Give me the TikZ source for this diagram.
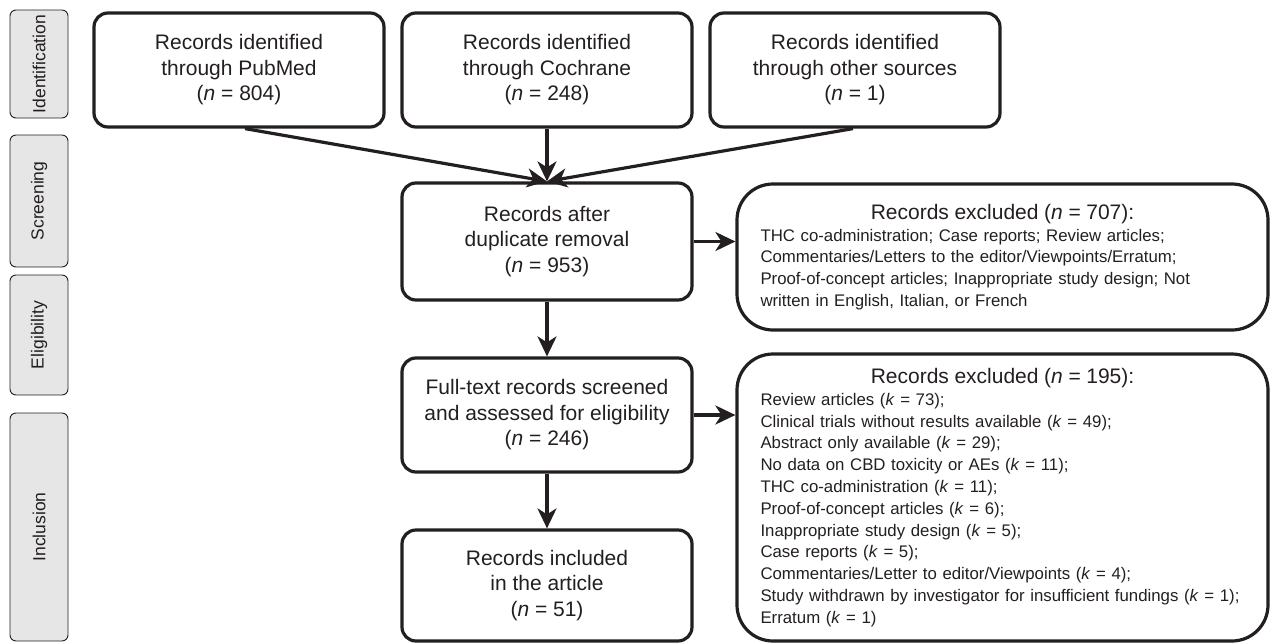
\documentclass[tikz,border=0pt]{standalone}
\usepackage{fontspec}
\setmainfont{Liberation Sans}
\usetikzlibrary{arrows.meta}
\definecolor{ink}{HTML}{231F20}
\definecolor{labfill}{HTML}{E6E6E6}
\begin{document}
\begin{tikzpicture}[x=1pt,y=-1pt,
  mainbox/.style={draw=ink, line width=3.2pt, rounded corners=14pt,
    minimum width=290pt, align=center, text=ink, inner sep=0pt,
    font=\fontsize{21}{25.5}\selectfont},
  exbox/.style={draw=ink, line width=3.2pt, rounded corners=36pt,
    text width=484pt, inner xsep=23.5pt, inner ysep=0pt, align=left, text=ink,
    font=\fontsize{16.8}{21.8}\selectfont},
  stagebox/.style={draw=ink, line width=0.9pt, fill=labfill, rounded corners=6pt,
    rotate=90, minimum height=58pt, inner sep=0pt, text=ink,
    font=\fontsize{17.5}{21}\selectfont},
  arr/.style={draw=ink, line width=3.2pt, -{Stealth[length=20pt,width=19pt,inset=6pt]}}
]
\useasboundingbox (0,0) rectangle (1272,643);

% stage labels
\node[stagebox, minimum width=108pt] (lid) at (39,64) {Identification};
\node[stagebox, minimum width=132pt] (lscr) at (39,201) {Screening};
\node[stagebox, minimum width=120pt] (lel) at (39,335) {Eligibility};
\node[stagebox, minimum width=228pt] (lin) at (39,527) {Inclusion};

% main boxes
\node[mainbox, minimum height=114pt] (pub) at (239,70) {Records identified\\through PubMed\\(\textit{n} = 804)};
\node[mainbox, minimum height=114pt] (coch) at (547,70) {Records identified\\through Cochrane\\(\textit{n} = 248)};
\node[mainbox, minimum height=114pt] (oth) at (855,70) {Records identified\\through other sources\\(\textit{n} = 1)};
\node[mainbox, minimum height=117pt] (scr) at (547,241.5) {Records after\\duplicate removal\\(\textit{n} = 953)};
\node[mainbox, minimum height=114pt] (elig) at (547,415) {Full-text records screened\\and assessed for eligibility\\(\textit{n} = 246)};
\node[mainbox, minimum height=111pt] (incl) at (547,585.5) {Records included\\in the article\\(\textit{n} = 51)};

% exclusion boxes
\node[exbox, minimum height=146pt] (ex1) at (1002.5,257) {{\centering\fontsize{21}{24}\selectfont Records excluded (\textit{n} = 707):\par}
THC co-administration; Case reports; Review articles;\\
Commentaries/Letters to the editor/Viewpoints/Erratum;\\
Proof-of-concept articles; Inappropriate study design; Not\\
written in English, Italian, or French};
\node[exbox, minimum height=287pt] (ex2) at (1002.5,497.5) {{\centering\fontsize{21}{24}\selectfont Records excluded (\textit{n} = 195):\par}
Review articles (\textit{k} = 73);\\
Clinical trials without results available (\textit{k} = 49);\\
Abstract only available (\textit{k} = 29);\\
No data on CBD toxicity or AEs (\textit{k} = 11);\\
THC co-administration (\textit{k} = 11);\\
Proof-of-concept articles (\textit{k} = 6);\\
Inappropriate study design (\textit{k} = 5);\\
Case reports (\textit{k} = 5);\\
Commentaries/Letter to editor/Viewpoints (\textit{k} = 4);\\
\mbox{Study withdrawn by investigator for insufficient fundings (\textit{k} = 1);}\\
Erratum (\textit{k} = 1)};

% connectors
\draw[arr] ([xshift=6pt]pub.south) -- (scr.north);
\draw[arr] (coch.south) -- (scr.north);
\draw[arr] ([xshift=-2pt]oth.south) -- (scr.north);
\draw[arr] (scr.south) -- (elig.north);
\draw[arr] (elig.south) -- (incl.north);
\draw[arr] (scr.east) -- (scr.east -| ex1.west);
\draw[arr] (elig.east) -- (elig.east -| ex2.west);
\end{tikzpicture}
\end{document}
